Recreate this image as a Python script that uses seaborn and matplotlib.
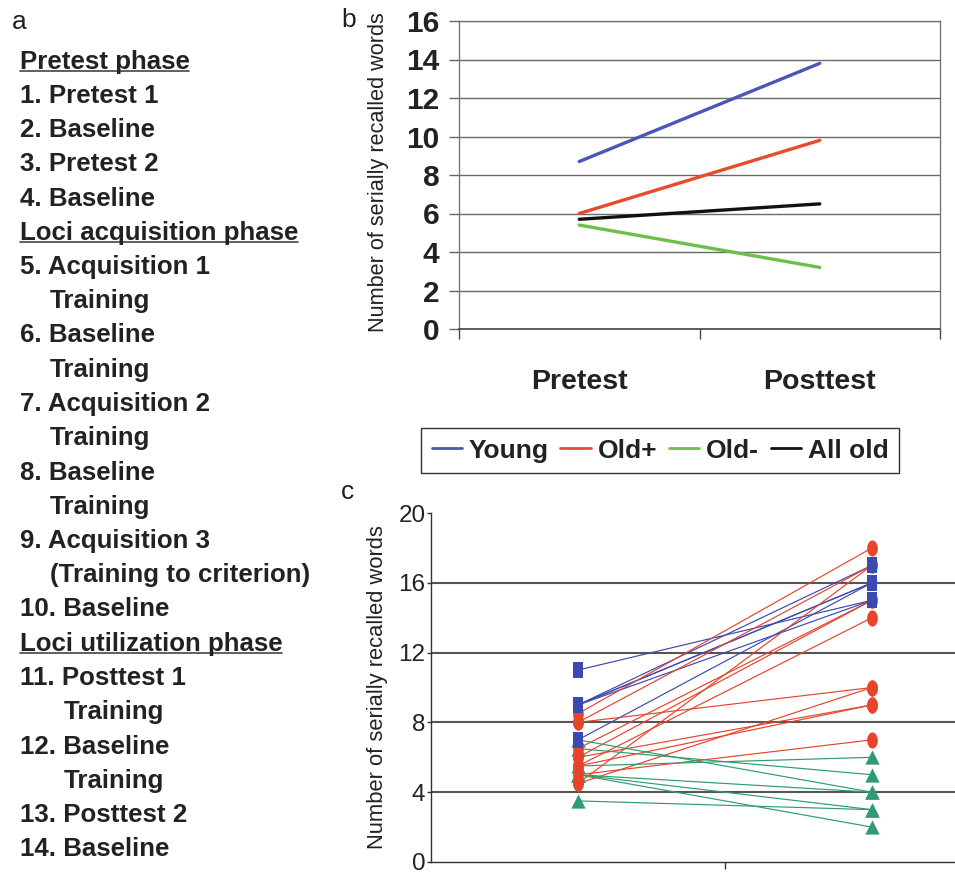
import numpy as np
import pandas as pd
import matplotlib
matplotlib.use("Agg")
import matplotlib.pyplot as plt
import seaborn as sns
from matplotlib import font_manager
from matplotlib.lines import Line2D
from matplotlib.path import Path

# ---- data ----
phases = ["Pretest", "Posttest"]
groups_b = ["Young", "Old+", "Old-", "All old"]
young_mean = [8.7, 13.8]
oldplus_mean = [6.0, 9.8]
oldminus_mean = [5.4, 3.2]
allold_mean = [5.7, 6.5]

# individual scores (panel c)
young_pre = [11, 9, 9, 9, 9, 7]
young_post = [15, 17, 16, 16, 15, 16]
oldplus_pre = [8.5, 8.0, 8.0, 6.5, 6.0, 5.5, 6.0, 5.5, 4.5, 5.0, 4.5]
oldplus_post = [18, 17, 10, 15, 15, 14, 9, 9, 10, 7, 17]
oldminus_pre = [7.0, 6.5, 5.5, 5.0, 5.0, 5.0, 3.5]
oldminus_post = [4, 5, 6, 4, 3, 2, 3]

protocol = ["Pretest phase", "1. Pretest 1", "2. Baseline", "3. Pretest 2", "4. Baseline",
            "Loci acquisition phase", "5. Acquisition 1", "Training", "6. Baseline", "Training",
            "7. Acquisition 2", "Training", "8. Baseline", "Training", "9. Acquisition 3",
            "(Training to criterion)", "10. Baseline", "Loci utilization phase",
            "11. Posttest 1", "Training", "12. Baseline", "Training", "13. Posttest 2",
            "14. Baseline"]
headers = ["Pretest phase", "Loci acquisition phase", "Loci utilization phase"]

colors_b = {"Young": "#4a57b8", "Old+": "#ea4a2c", "Old-": "#6cc04a", "All old": "#111111"}
colors_c = {"Young": "#3a4aae", "Old+": "#e8432b", "Old-": "#2e9c70"}

# ---- fonts ----
sns.set_theme(style="white")
names = {f.name for f in font_manager.fontManager.ttflist}
arial = "Liberation Sans" if "Liberation Sans" in names else "DejaVu Sans"
narrow = "Liberation Sans Narrow" if "Liberation Sans Narrow" in names else arial
plt.rcParams["font.family"] = [arial, "DejaVu Sans"]

W, H = 955, 874
fig = plt.figure(figsize=(W / 100, H / 100), dpi=100)


def fx(x):
    return x / W


def fy(y):
    return 1 - y / H


# ---- panel a : protocol text ----
fig.text(fx(12), fy(29), "a", fontsize=19, color="#222222", va="baseline")
header_texts = []
for i, line in enumerate(protocol):
    if line.startswith("Training") or line.startswith("("):
        prev = protocol[i - 1]
        x = 64 if prev[:2].isdigit() else 50
    else:
        x = 19.5
    t = fig.text(fx(x), fy(68.5 + 34.25 * i), line, fontsize=18.6, fontweight="bold",
                 color="#222222", va="baseline")
    if line in headers:
        header_texts.append((t, 68.5 + 34.25 * i))

# ---- panel b : group means ----
fig.text(fx(341), fy(27), "b", fontsize=19, color="#222222", va="baseline")
axb = fig.add_axes([459 / W, 1 - 329 / H, 481 / W, 308 / H])
df_b = pd.DataFrame({
    "phase": phases * 4,
    "group": np.repeat(groups_b, 2),
    "words": young_mean + oldplus_mean + oldminus_mean + allold_mean,
})
df_b["x"] = df_b["phase"].map({"Pretest": 0.5, "Posttest": 1.5})
sns.lineplot(data=df_b, x="x", y="words", hue="group", palette=colors_b,
             linewidth=2.4, legend=False, ax=axb)
axb.set_xlim(0, 2)
axb.set_ylim(0, 16)
axb.set_yticks(range(0, 17, 2))
axb.set_xticks([0, 1, 2])
axb.set_xticklabels([])
axb.set_xticks([0.5, 1.5], phases, minor=True)
axb.tick_params(axis="x", which="minor", length=0, pad=29, labelsize=20.5)
axb.tick_params(axis="x", which="major", direction="out", length=7, width=1, color="#444444", bottom=True)
axb.tick_params(axis="y", direction="out", length=7, width=1, color="#666666", left=True,
                pad=7, labelsize=21.5)
for lab in axb.get_yticklabels() + axb.get_xticklabels(minor=True):
    lab.set_fontweight("bold")
    lab.set_color("#222222")
axb.grid(axis="y", color="#6a6a6a", linewidth=1.0)
axb.set_axisbelow(True)
for side in ["left", "right", "top"]:
    axb.spines[side].set_color("#777777")
    axb.spines[side].set_linewidth(1.0)
axb.spines["bottom"].set_color("#444444")
axb.spines["bottom"].set_linewidth(1.2)
axb.set_xlabel("")
axb.set_ylabel("Number of serially recalled words", fontsize=15.6, color="#222222")
axb.yaxis.set_label_coords(-0.146, 0.51)

# ---- legend ----
handles = [Line2D([], [], color=colors_b[g], linewidth=2.0) for g in groups_b]
leg = fig.legend(handles, groups_b, loc="center", bbox_to_anchor=(fx(660), fy(450.5)),
                 ncol=4, frameon=True, fancybox=False, edgecolor="#333333", framealpha=1,
                 handlelength=1.15, handletextpad=0.25, columnspacing=0.45, borderpad=0.4,
                 borderaxespad=0, prop={"family": arial, "weight": "bold", "size": 19})
leg.get_frame().set_linewidth(1.0)
for txt in leg.get_texts():
    txt.set_color("#222222")

# ---- panel c : individual scores ----
fig.text(fx(341), fy(499), "c", fontsize=19, color="#222222", va="baseline")
axc = fig.add_axes([431 / W, 1 - 862 / H, (W - 431) / W, 349 / H])
rows = []
for grp, pre, post in [("Young", young_pre, young_post),
                       ("Old+", oldplus_pre, oldplus_post),
                       ("Old-", oldminus_pre, oldminus_post)]:
    for k, (a, b) in enumerate(zip(pre, post)):
        rows.append({"group": grp, "subject": f"{grp}{k}", "phase": "Pretest", "words": a})
        rows.append({"group": grp, "subject": f"{grp}{k}", "phase": "Posttest", "words": b})
df_c = pd.DataFrame(rows)
df_c["x"] = df_c["phase"].map({"Pretest": 0.5, "Posttest": 1.5})

sns.lineplot(data=df_c, x="x", y="words", hue="group", units="subject", estimator=None,
             palette=colors_c, linewidth=0.85, legend=False, ax=axc)

rect = Path([(-0.32, -0.5), (0.32, -0.5), (0.32, 0.5), (-0.32, 0.5), (-0.32, -0.5)], closed=True)
tt = np.linspace(0, 2 * np.pi, 40)
ellipse = Path(np.column_stack([0.66 * np.cos(tt), np.sin(tt)]), closed=True)
marker_c = {"Old-": ("^", 105), "Old+": (ellipse, 135), "Young": (rect, 135)}
for grp in ["Old-", "Old+", "Young"]:
    sub = df_c[df_c["group"] == grp]
    mk, size = marker_c[grp]
    sns.scatterplot(data=sub, x="x", y="words", color=colors_c[grp], marker=mk, s=size,
                    linewidth=0, legend=False, ax=axc, zorder=3)

axc.set_xlim(0, (W - 431) / 294)
axc.set_ylim(0, 20)
axc.set_yticks(range(0, 21, 4))
axc.set_xticks([1])
axc.set_xticklabels([])
axc.tick_params(axis="x", direction="out", length=5, width=1, color="#333333", bottom=True)
axc.tick_params(axis="y", direction="out", length=3, width=1, color="#333333", left=True,
                pad=1, labelsize=19 if narrow != arial else 17.5)
for lab in axc.get_yticklabels():
    lab.set_family(narrow)
    lab.set_color("#222222")
for yv in [4, 8, 12, 16]:
    axc.axhline(yv, color="#555555", linewidth=1.5, zorder=0)
for side in ["right", "top"]:
    axc.spines[side].set_visible(False)
for side in ["left", "bottom"]:
    axc.spines[side].set_color("#333333")
    axc.spines[side].set_linewidth(1.0)
axc.set_xlabel("")
axc.set_ylabel("Number of serially recalled words", fontsize=15.8, color="#222222")
axc.yaxis.set_label_coords(-0.082, 0.5)

# underline the phase headers
fig.canvas.draw()
renderer = fig.canvas.get_renderer()
for t, base in header_texts:
    bb = t.get_window_extent(renderer)
    fig.add_artist(Line2D([fx(bb.x0), fx(bb.x1)], [fy(base + 2.5), fy(base + 2.5)],
                          color="#444444", linewidth=1.2))

fig.savefig("out.png", dpi=100)
